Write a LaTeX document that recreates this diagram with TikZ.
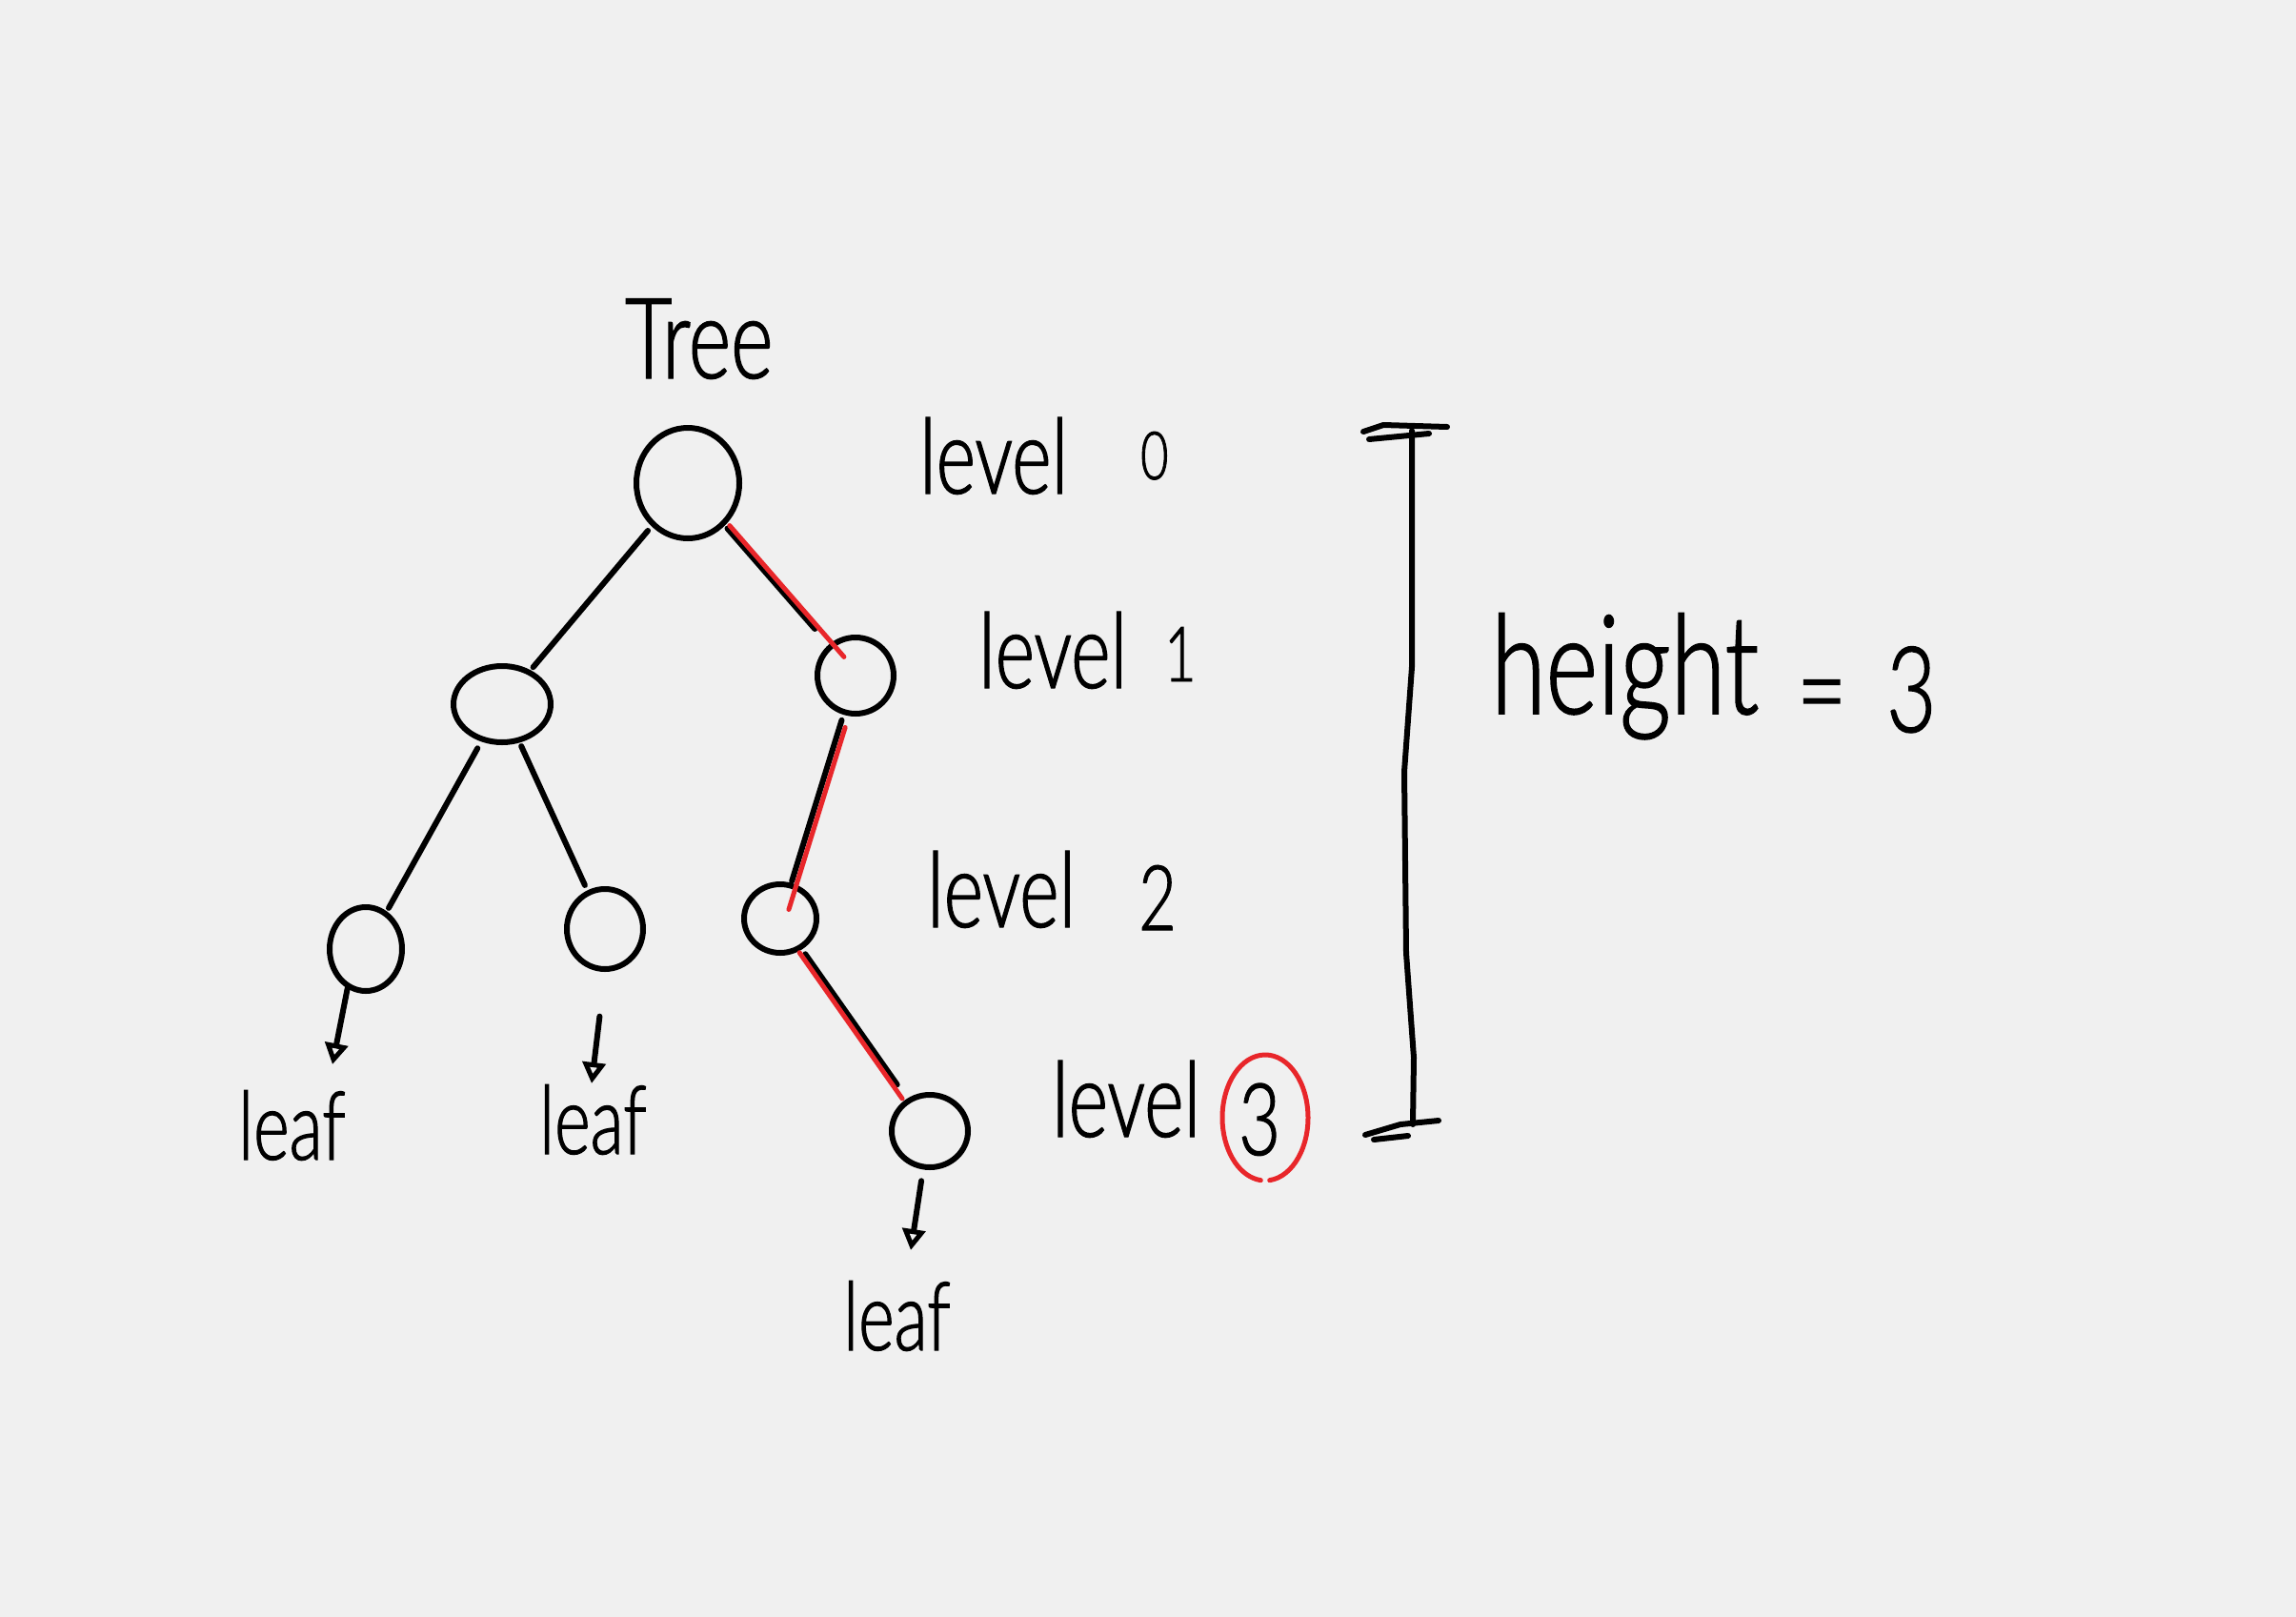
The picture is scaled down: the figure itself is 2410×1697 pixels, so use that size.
\documentclass[tikz,border=0pt]{standalone}
\usepackage{fontspec}
\newfontfamily\handfont[FakeStretch=0.72, FakeBold=1.2, UprightFont={* Light}]{Lato}
\usetikzlibrary{shapes.geometric,arrows.meta}
\definecolor{bgcol}{HTML}{F0F0F0}
\definecolor{redpen}{HTML}{E8262A}
\begin{document}
\begin{tikzpicture}[x=1pt,y=1pt,
  ink/.style={line width=6pt, line cap=round, line join=round, draw=black},
  redink/.style={line width=5pt, line cap=round, line join=round, draw=redpen},
  treenode/.style={ellipse, draw=black, line width=6pt, inner sep=0pt},
  txt/.style={font=\handfont\fontsize{#1pt}{#1pt}\selectfont, inner sep=0pt, anchor=base west},
  leafarrow/.style={ink, -{Triangle[open,length=22pt,width=24pt,line width=5pt]}}
]
\path[fill=bgcol, use as bounding box] (0,0) rectangle (2410,-1697);

% title
\node[txt=118] (title) at (656,-397) {Tree};

% tree nodes
\node[treenode, minimum width=108pt, minimum height=116pt] (r) at (722,-507) {};
\node[treenode, minimum width=102pt, minimum height=80pt] (a) at (527,-739) {};
\node[treenode, minimum width=80pt, minimum height=80pt] (b) at (898,-709) {};
\node[treenode, minimum width=76pt, minimum height=88pt] (c) at (384,-996) {};
\node[treenode, minimum width=80pt, minimum height=84pt] (d) at (635,-975) {};
\node[treenode, minimum width=76pt, minimum height=72pt] (e) at (819,-964) {};
\node[treenode, minimum width=80pt, minimum height=76pt] (f) at (976,-1187) {};

% edges
\draw[ink, shorten <=6pt, shorten >=4pt] (r) -- (a);
\draw[ink, shorten <=4pt, shorten >=22pt] (r) -- (b);
\draw[redink, transform canvas={xshift=5pt}, shorten >=26pt] (r) -- (b.center);
\draw[ink, shorten <=8pt, shorten >=4pt] (a) -- (c);
\draw[ink, shorten <=4pt, shorten >=6pt] (a) -- (d);
\draw[ink, shorten <=6pt, shorten >=2pt] (b) -- (e);
\draw[redink, transform canvas={xshift=6pt}, shorten <=14pt, shorten >=10pt] (b) -- (e.center);
\draw[ink, shorten <=6pt, shorten >=18pt] (e) -- (f);
\draw[redink, transform canvas={xshift=-5pt}, shorten <=4pt] (e) -- (f);

% leaves
\node[txt=100] (l1) at (250,-1217) {leaf};
\node[txt=100] (l2) at (566,-1211) {leaf};
\node[txt=100] (l3) at (885,-1417) {leaf};
\coordinate (t1) at (349,-1117);
\coordinate (t2) at (621,-1137);
\coordinate (t3) at (956,-1312);
\draw[leafarrow] (c.-115) -- (t1);
\draw[leafarrow, shorten <=47pt] (d.south) -- (t2);
\draw[leafarrow, shorten <=12pt] (f.-100) -- (t3);

% level labels
\node[txt=110] (lv0) at (965,-518) {level};
\node[txt=70] (n0) at (1197,-503) {0};
\node[txt=110] (lv1) at (1027,-722) {level};
\node[txt=80] (n1) at (1222,-715) {1};
\node[txt=110] (lv2) at (973,-973) {level};
\node[txt=95] (n2) at (1195,-976) {2};
\node[txt=110] (lv3) at (1104,-1193) {level};
\node[txt=105] (n3) at (1300,-1212) {3};
\coordinate (n3c) at (1328,-1173);
\draw[redink] (n3c) ++(-84:45 and 66) arc[start angle=-84, end angle=264, x radius=45, y radius=66];

% height bracket
\coordinate (bt) at (1482,-452);
\coordinate (bb) at (1483,-1180);
\draw[ink] (bt) -- (1482,-700) -- (1474,-810) -- (1476,-1000) -- (1484,-1110) -- (bb);
\draw[ink] (1431,-453) -- (1452,-446) -- (1519,-448);
\draw[ink] (1437,-461) -- (1500,-455);
\draw[ink] (1433,-1191) -- (1470,-1180) -- (1510,-1176);
\draw[ink] (1442,-1196) -- (1478,-1192);

% height = 3
\node[txt=145] (ht) at (1565,-749) {height};
\node[txt=125] (eq) at (1886,-768) {=};
\node[txt=125] (h3) at (1980,-768) {3};
\end{tikzpicture}
\end{document}
